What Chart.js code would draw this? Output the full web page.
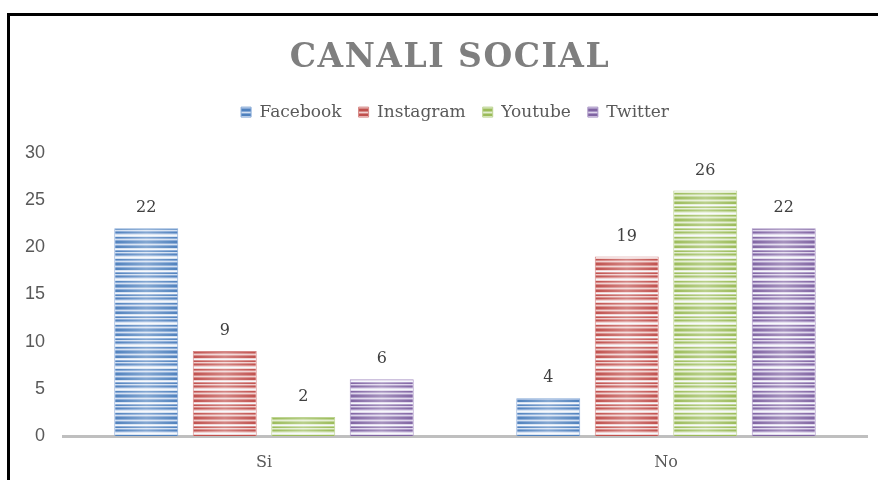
<!DOCTYPE html>
<html>
<head>
<meta charset="utf-8">
<script src="https://cdn.jsdelivr.net/npm/chart.js@4/dist/chart.umd.min.js"></script>
<style>
  html, body { margin: 0; padding: 0; background: #fff; overflow: hidden; }
  #wrap { position: relative; width: 878px; height: 480px; }
  #frame { position: absolute; left: 7px; top: 13px; width: 1000px; height: 1000px;
           border: 3px solid #000; pointer-events: none; box-sizing: border-box; }
</style>
</head>
<body>
<div id="wrap">
  <canvas id="c" width="878" height="480"></canvas>
  <div id="frame"></div>
</div>
<script>
const titleText = 'CANALI SOCIAL';
const categories = ['Si', 'No'];
const seriesNames = ['Facebook', 'Instagram', 'Youtube', 'Twitter'];
const facebook = [22, 4];
const instagram = [9, 19];
const youtube = [2, 26];
const twitter = [6, 22];
const yTicks = [0, 5, 10, 15, 20, 25, 30];

const baseColors = ['#4F81BD', '#C0504D', '#9BBB59', '#8064A2'];
const lightColors = ['#D3E0F1', '#F0CFCE', '#E3EDD0', '#DDD4EA'];
const midColors = ['#86A8D6', '#D68886', '#BDD492', '#A894C4'];

function stripePattern(i) {
  const c = document.createElement('canvas');
  const rows = ['b','m','l','m','b','b','l','w','m','b','l','m','b','m','l','w','l','b','m','l','m','b'];
  c.width = 4; c.height = rows.length;
  const x = c.getContext('2d');
  rows.forEach((r, k) => {
    x.fillStyle = r === 'b' ? baseColors[i] : r === 'm' ? midColors[i] : r === 'l' ? lightColors[i] : '#F4F7FB';
    x.fillRect(0, k, 4, 1);
  });
  return x.createPattern(c, 'repeat');
}

const seriesData = [facebook, instagram, youtube, twitter];
const datasets = seriesNames.map((n, i) => ({
  label: n,
  data: seriesData[i],
  backgroundColor: stripePattern(i),
  borderColor: midColors[i],
  borderWidth: 1,
  barPercentage: 0.815,
  categoryPercentage: 0.781
}));

const serif = "'DejaVu Serif', 'Liberation Serif', serif";

const barShine = {
  id: 'barShine',
  afterDatasetsDraw(chart) {
    const ctx = chart.ctx;
    chart.data.datasets.forEach((ds, di) => {
      chart.getDatasetMeta(di).data.forEach((el) => {
        const left = el.x - el.width / 2, right = el.x + el.width / 2;
        const g = ctx.createLinearGradient(left, 0, right, 0);
        g.addColorStop(0, 'rgba(255,255,255,0)');
        g.addColorStop(0.5, 'rgba(255,255,255,0.3)');
        g.addColorStop(1, 'rgba(255,255,255,0)');
        ctx.save();
        ctx.fillStyle = g;
        ctx.fillRect(left + 1, el.y + 1, el.width - 2, el.base - el.y - 2);
        ctx.restore();
      });
    });
  }
};

const valueLabels = {
  id: 'valueLabels',
  afterDatasetsDraw(chart) {
    const ctx = chart.ctx;
    ctx.save();
    ctx.font = '16px ' + serif;
    ctx.fillStyle = '#404040';
    ctx.textAlign = 'center';
    ctx.textBaseline = 'middle';
    chart.data.datasets.forEach((ds, di) => {
      chart.getDatasetMeta(di).data.forEach((el, j) => {
        ctx.fillText(String(ds.data[j]), el.x, el.y - 20);
      });
    });
    ctx.restore();
  }
};

const layoutTweaks = {
  id: 'layoutTweaks',
  beforeInit(chart) {
    const lg = chart.legend;
    const origFit = lg.fit;
    lg.fit = function () { origFit.call(lg); this.height += 22; };
    const origLgDraw = lg.draw;
    lg.draw = function () {
      const ctx = chart.ctx;
      ctx.save();
      ctx.translate(21, 0);
      origLgDraw.call(lg);
      ctx.restore();
    };
    const tb = chart.titleBlock;
    const origDraw = tb.draw;
    tb.draw = function () {
      const ctx = chart.ctx;
      ctx.save();
      ctx.translate(16, 0);
      ctx.letterSpacing = '1.5px';
      origDraw.call(tb);
      ctx.restore();
      ctx.letterSpacing = '0px';
    };
  }
};

new Chart(document.getElementById('c'), {
  type: 'bar',
  data: { labels: categories, datasets },
  plugins: [barShine, valueLabels, layoutTweaks],
  options: {
    responsive: false,
    animation: false,
    layout: { padding: { left: 1, right: 11, top: 0, bottom: 8 } },
    plugins: {
      title: {
        display: true,
        text: titleText,
        color: '#7F7F7F',
        font: { family: serif, size: 33, weight: 'bold' },
        padding: { top: 39, bottom: 8 }
      },
      legend: {
        display: true,
        labels: {
          color: '#595959',
          font: { family: serif, size: 17 },
          boxWidth: 10, boxHeight: 10,
          padding: 17
        }
      },
      tooltip: { enabled: false }
    },
    scales: {
      x: {
        afterFit(s) { s.height = 36; },
        grid: { display: false, drawTicks: false },
        border: { display: true, color: '#BFBFBF', width: 3 },
        ticks: { color: '#595959', font: { family: serif, size: 16 }, padding: 17 }
      },
      y: {
        min: 0, max: 30,
        afterFit(s) { s.width = 62; },
        afterBuildTicks(s) { s.ticks = yTicks.map(v => ({ value: v })); },
        grid: { display: false, drawTicks: false },
        border: { display: false },
        ticks: { color: '#595959', font: { family: "'Liberation Sans', Arial, sans-serif", size: 18 }, padding: 18 }
      }
    }
  }
});
</script>
</body>
</html>
